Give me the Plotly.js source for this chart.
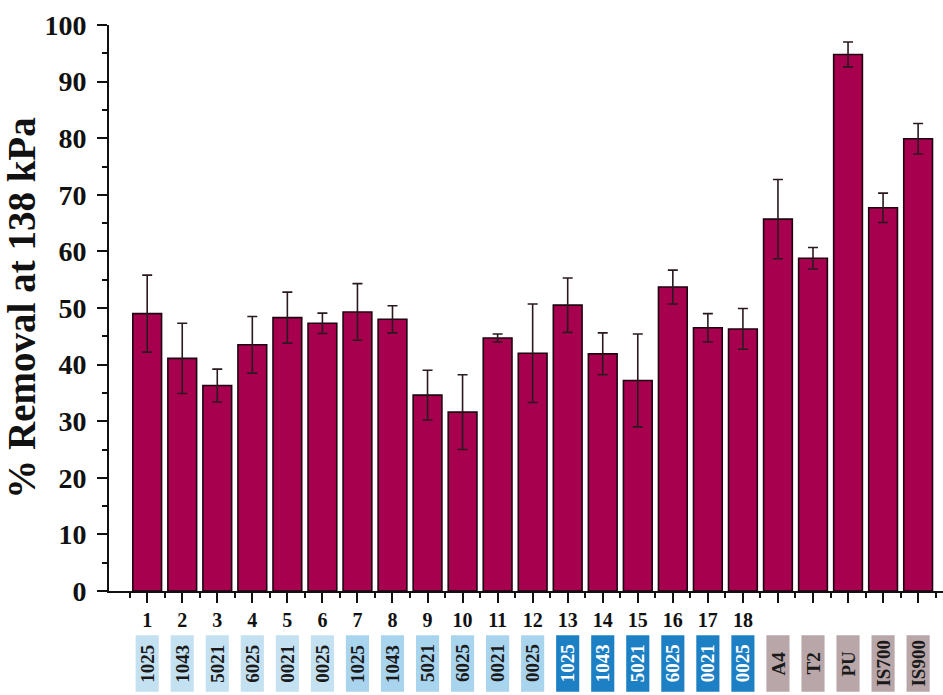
<!DOCTYPE html>
<html>
<head>
<meta charset="utf-8">
<script src="https://cdn.plot.ly/plotly-3.0.1.min.js"></script>
<style>
  html, body { margin: 0; padding: 0; background: #ffffff; }
  #chart { width: 943px; height: 695px; }
</style>
</head>
<body>
<div id="chart"></div>
<script>
// Membrane samples tested at 138 kPa
const positions = [1, 2, 3, 4, 5, 6, 7, 8, 9, 10, 11, 12, 13, 14, 15, 16, 17, 18, 19, 20, 21, 22, 23];
const sampleNumbers = ['1', '2', '3', '4', '5', '6', '7', '8', '9', '10', '11', '12',
                       '13', '14', '15', '16', '17', '18', '', '', '', '', ''];
const sampleCodes = ['1025', '1043', '5021', '6025', '0021', '0025',
                     '1025', '1043', '5021', '6025', '0021', '0025',
                     '1025', '1043', '5021', '6025', '0021', '0025',
                     'A4', 'T2', 'PU', 'IS700', 'IS900'];
const sampleGroups = ['A', 'A', 'A', 'A', 'A', 'A',
                      'B', 'B', 'B', 'B', 'B', 'B',
                      'C', 'C', 'C', 'C', 'C', 'C',
                      'D', 'D', 'D', 'D', 'D'];
const removal = [49.0, 41.1, 36.3, 43.5, 48.3, 47.3, 49.3, 48.0, 34.6, 31.6, 44.7, 42.0,
                 50.5, 41.9, 37.2, 53.7, 46.5, 46.3, 65.7, 58.8, 94.8, 67.7, 79.9];
const removalErr = [6.8, 6.2, 2.9, 5.0, 4.5, 1.8, 5.0, 2.4, 4.4, 6.6, 0.7, 8.7,
                    4.8, 3.7, 8.2, 3.0, 2.5, 3.6, 7.0, 1.9, 2.2, 2.6, 2.7];

const groupFill = { A: '#c4e1f2', B: '#a9d4ee', C: '#1d80c4', D: '#b9a6a9' };
const groupText = { A: '#1a1a1a', B: '#1a1a1a', C: '#ffffff', D: '#1a1a1a' };

const serif = '"Liberation Serif", "Times New Roman", serif';
const ink = '#111111';

// half-way ticks between the samples, and every 5 % on the value axis
const halfTicks = [0.5].concat(positions.map(p => p + 0.5));
const xRange = [-0.09, 23.71];
const yRange = [0, 100];

const trace = {
  type: 'bar',
  x: positions,
  y: removal,
  width: 0.82,
  marker: { color: '#a6004f', line: { color: '#1e0010', width: 1.6 } },
  error_y: { type: 'data', array: removalErr, visible: true,
             color: '#2a1a20', thickness: 1.6, width: 5 },
  hoverinfo: 'x+y'
};

// Code badges under the sample numbers
const shapes = [];
const annotations = [];
positions.forEach((p, i) => {
  shapes.push({
    type: 'rect', xref: 'x', yref: 'paper',
    x0: p - 0.33, x1: p + 0.33, y0: -0.178, y1: -0.078,
    fillcolor: groupFill[sampleGroups[i]], line: { width: 0 }, layer: 'above'
  });
  annotations.push({
    xref: 'x', yref: 'paper', x: p, y: -0.128,
    text: '<b>' + sampleCodes[i] + '</b>', showarrow: false, textangle: -90,
    font: { family: serif, size: 19, color: groupText[sampleGroups[i]] },
    xanchor: 'center', yanchor: 'middle'
  });
});

const layout = {
  width: 943, height: 695,
  margin: { l: 109, r: 0, t: 25, b: 104 },
  paper_bgcolor: '#ffffff', plot_bgcolor: '#ffffff',
  showlegend: false,
  bargap: 0,
  xaxis: {
    range: xRange,
    tickmode: 'array', tickvals: positions, ticktext: sampleNumbers,
    ticks: 'outside', ticklen: 10, tickwidth: 2, tickcolor: ink,
    minor: { tickmode: 'array', tickvals: halfTicks, ticks: 'outside',
             ticklen: 5, tickwidth: 2, tickcolor: ink, showgrid: false },
    showline: true, linecolor: ink, linewidth: 2,
    showgrid: false, zeroline: false,
    tickfont: { family: serif, size: 20, color: ink, weight: 'bold' },
    fixedrange: true
  },
  // second bottom axis carrying only the short half-way ticks
  xaxis2: {
    overlaying: 'x', anchor: 'y', side: 'bottom', range: xRange,
    tickmode: 'array', tickvals: halfTicks, showticklabels: false,
    ticks: 'outside', ticklen: 5, tickwidth: 2, tickcolor: ink,
    showline: false, showgrid: false, zeroline: false, fixedrange: true
  },
  yaxis: {
    range: yRange, tickmode: 'linear', tick0: 0, dtick: 10,
    ticks: 'outside', ticklen: 10, tickwidth: 2, tickcolor: ink,
    minor: { tickmode: 'linear', tick0: 0, dtick: 5, ticks: 'outside', ticklen: 5,
             tickwidth: 2, tickcolor: ink, showgrid: false },
    ticklabelstandoff: 5,
    showline: true, linecolor: ink, linewidth: 2,
    showgrid: false, zeroline: false,
    tickfont: { family: serif, size: 28, color: ink, weight: 'bold' },
    title: { text: '<b>% Removal at 138 kPa</b>', standoff: 0,
             font: { family: serif, size: 39, color: ink } },
    fixedrange: true
  },
  yaxis2: {
    overlaying: 'y', anchor: 'x', side: 'left', range: yRange,
    tickmode: 'linear', tick0: 5, dtick: 10, showticklabels: false,
    ticks: 'outside', ticklen: 5, tickwidth: 2, tickcolor: ink,
    showline: false, showgrid: false, zeroline: false, fixedrange: true
  },
  shapes: shapes,
  annotations: annotations
};

Plotly.newPlot('chart', [trace], layout, { displayModeBar: false, staticPlot: true });
</script>
</body>
</html>
